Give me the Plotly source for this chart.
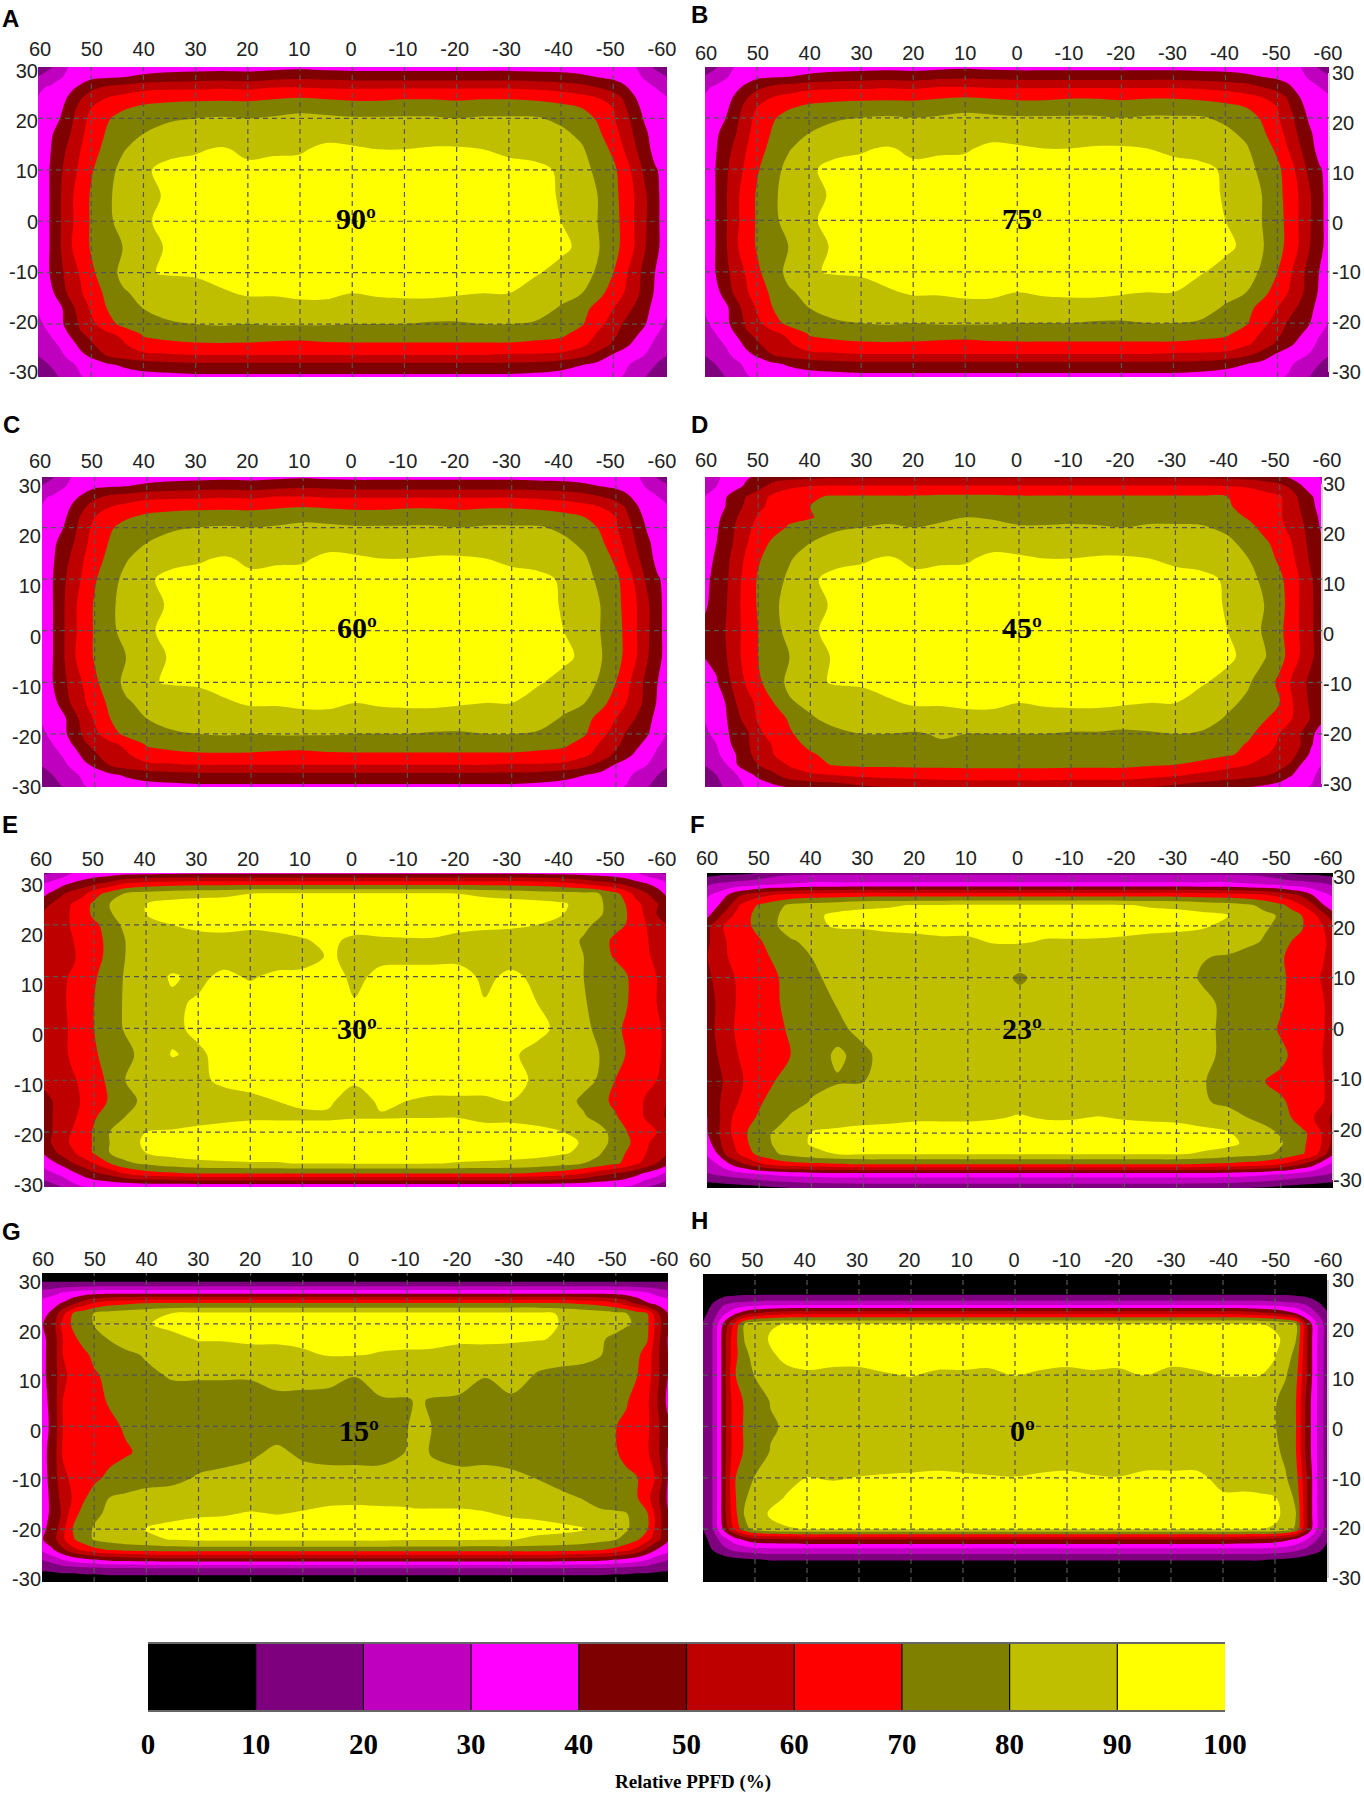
import plotly.graph_objects as go

# Grid of the readings (degrees)
xs = [60.5,58,56,54,52,50,47,44,40,35,30,25,20,15,10,5,0,-5,-10,-15,-20,-25,-30,-35,-40,-44,-47,-50,-52,-54,-56,-58,-60.5]
xs_15 = xs[:19] + [-12] + xs[19:]
ys = [30.7,28,26,24,22,20,17,14,10,5,0,-5,-10,-14,-17,-20,-22,-24,-26,-28,-30.7]

# Relative PPFD. 90, 75 and 60 degrees look identical in the source.
z_90 = [
[12,16,23,30,32,33,33,33,33,33,33,33,33,33,34,33,33,33,33,33,33,33,33,33,33,33,33,33,32,30,23,16,12],
[20,25,29,33,36,38,39,40,42,44,45,46,45,47,48,47,46,46,46,46,46,46,46,45,44,42,40,38,36,33,29,25,20],
[28,31,34,38,42,47,52,54,57,58,58,59,58,60,60,59,59,59,59,59,59,59,59,58,56,54,50,46,42,37,33,30,28],
[30,33,36,42,49,56,60,63,66,67,68,68,68,69,70,69,68,68,69,69,68,69,69,68,66,63,60,55,49,41,35,32,30],
[32,34,38,45,54,60,65,69,72,74,74,75,74,76,77,76,75,75,76,76,75,76,76,75,73,70,65,60,52,44,37,34,32],
[33,36,40,47,57,62,69,73,77,79,80,81,80,81,83,82,81,81,81,81,80,81,81,81,78,74,69,61,55,46,39,35,33],
[34,38,44,50,58,64,71,77,80,83,84,84,84,85,85,87,87,85,85,85,85,85,85,85,82,78,72,64,57,49,42,36,34],
[35,39,46,53,60,66,73,79,85,88,89,91,88,89,89,92,91,90,90,91,91,90,88,87,84,81,75,68,60,52,44,37,35],
[36,40,48,56,62,69,76,83,89,92,93,94,92,92,93,94,93,94,94,94,94,94,93,92,89,83,78,72,66,57,48,41,36],
[37,40,49,58,65,71,78,84,88,91,94]+[95]*12+[94,89,84,80,73,67,60,52,42,36],
[38,40,49,58,65,71,78,83,89,92,94]+[95]*12+[94,90,84,80,73,68,60,52,42,36],
[37,40,49,59,65,71,76,80,87,91,94]+[95]*12+[94,92,88,81,73,68,60,51,42,36],
[35,40,47,56,61,68,76,82,89,91,91,93,94,94,94,94,94,94,94,94,94,94,94,91,87,83,79,70,63,55,47,40,34],
[33,37,44,53,59,65,72,79,82,84,87,89,91,91,92,92,90,91,92,92,91,90,90,86,83,80,73,66,60,54,46,39,33],
[30,34,38,46,55,61,70,75,80,83,84,85,86,86,87,87,86,87,86,86,85,85,85,84,79,73,67,60,55,49,43,37,31],
[28,32,38,44,52,58,65,73,77,79,80,81,80,81,81,81,80,80,80,79,79,80,80,79,76,71,63,56,49,45,41,34,28],
[26,30,35,41,49,52,58,62,71,73,74,75,74,74,73,73,74,74,74,74,74,74,74,73,72,66,59,52,47,42,37,31,26],
[23,27,31,36,43,49,54,58.5,66,68,69,69,69,68,68,69,69,69,69,69,69,69,69,68,66,62,56,48,43,38,34,28,23],
[20,24,28,33,38,42,51,55,58,59,60,60,60,60,60,60,60,60,60,60,60,60,59,59,58,53,47,39,36,33,30,25,20],
[16,20,24,28,32,35,38,41,44,46]+[47]*13+[46,43,40,37,34,32,28,24,20,16],
[12,15,20,25,29,31,33,34,35,35]+[36]*13+[35,35,34,33,31,29,25,20,15,12],
]
z_75 = z_90
z_60 = z_90
z_45 = [
[18,28,32,36,38,39,39,40,41,42]+[42]*13+[42,41,40,38,36,34,33,32,28,20],
[26,30,34,38,42,46,55,58,60,61]+[61]*13+[61,60,59,57,53,48,41,36,31,28],
[30,34,40,45,51,56,62,66,69,71,71,71,71,72,72,72,71,71,71,71,71,71,71,71,70,66,63,61,56,47,41,36,32],
[31,35,41,47,53,58,63,66,70,74,74,75,74,75,76,75,74,74,75,74,74,75,74,74,71,67,64,61,57,49,42,37,33],
[33,38,43,50,56,61,65,68,69,76,77,78,77,78,80,79,77,77,78,77,76,78,78,77,74,69,64,61,57,51,44,38,34],
[34,39,44,52,58,63,67,71,75,79,80,81,80,82,84,83,81,81,81,81,80,81,81,81,78,73,67,62,58,53,45,39,35],
[35,40,46,53,60,66,72,76,80,83,84,84,84,85,85,87,87,85,85,85,85,85,85,85,82,77,72,66,61,54,47,41,36],
[37,41,48,55,63,69,74,79,85,88,89,91,88,89,89,92,91,90,90,91,91,90,88,87,84,80,75,68,63,56,48,42,37],
[38,42,49,57,65,71,76,82,89,92,93,94,92,92,93,94,93,94,94,94,94,94,93,92,89,83,78,72,66,59,51,43,38],
[39,42,50,58,65,71,78,84,88,91,94]+[95]*12+[94,89,84,80,73,67,59,52,43,39],
[41,44,51,58,64,70,77,83,89,92,94]+[95]*12+[94,90,84,79,72,66,59,52,43,41],
[40,43,50,58,64,70,76,80,87,91,94]+[95]*12+[94,92,87,81,73,67,59,52,44,41],
[37,39,47,55,62,68,76,82,88,91,91,93,94,94,94,94,94,94,94,94,94,94,94,91,87,81,75,68,60,54,47,40,38],
[32,35,41,51,57,62,70,79,82,84,87,89,91,91,92,92,90,91,92,92,91,90,90,86,82,78,74,70,62,55,48,41,36],
[30,33,40,47,56,61,66,71,79,83,84,85,86,86,87,87,86,87,86,86,85,85,85,84,79,75,71,66,61,56,49,42,36],
[28,32,39,44,49,58,64,69,74,78,80,80,79,81,80,80,80,80,79,79,78,79,80,79,76,72,66,60,56,50,42,36,32],
[26,30,38,43,49,55,61,67,72,75,76,77,77,79,77,77,77,77,76,76,76,76,76,76,74,69,63,59,54,50,41,35,31],
[24,28,34,41,47,55,60,64,69,73]+[75]*13+[74,71,68,61,57,54,47,38,33,30],
[20,25,30,40,46,50,55,61,67,71]+[72]*11+[71,70,67,63,60,56,53,49,40,35,30,25],
[15,20,25,30,37,42,48,55,58,60,62,63,64,65,66,66,66,66,65,65,65,63,61,58,55,53,51,47,41,36,32,27,22],
[12,16,22,27,31,33,36,38,40,42,46,48,50,50,50,50,50,50,50,50,50,48,45,42,40,38,36,33,31,30,29,26,20],
]
z_30 = [
[12,16,20,26,28,28,28,28,28,28]+[28]*13+[28,28,28,28,28,28,26,20,16,12],
[28,33,37,41,44,48,53,60,63,65]+[66]*13+[65,62,58,54,50,47,43,40,37,30],
[36,42,49,54,58,66,74,81,84,86,87,88,90,91,91,91,91,91,91,91,90,88,86,85,84,83,80,73,66,57,51,44,37],
[42,51,56,61,66,72,80,85,90,93]+[94]*13+[93,91,87,82,74,70,63,57,51,43],
[50,54,58,61,66,72,79,84,90,92]+[93]*13+[92,90,86,81,76,71,65,58,50,46],
[52,55,58,61,65,68,74,83,87,90,92,92,91,91,92,92,92,91,91,91,91,91,91,90,88,82,78,73,70,65,60,54,49],
[52,54,57,60,63,66,73,80,84,85,87,88,88,89,89.6,91,89,89.7,89.8,89.8,89,88,87,85,84,79,74,68,66,64,61,56,53],
[52,54,57,59,63,66,73,80,84,85,86,86,85,85,85,91,88,88,87,87,87,87,86,85,84,80,74,69,67,65,62,57,53],
[53,56,59,61,64,69,74,81,85,91,88,92,89,92,93,94,88,92,94,94,94,88,92,88,85,80,77,74,71,67,64,60,57],
[53,55,59,62,66,70,76,81,85,88.5,91,94,95,95,95,95,90.5,94,95,95,95,90.5,93,90,86,81,76,73,71,67,64,60,57],
[52,54,58,62,65,70,75,81,85,88,92,95,95,95,95,95,95,95,95,95,95,95,94,92,88,83,77,72,69,66,64,61,58],
[52,54,58,62,65,69,73,77,84,90.5,88.5,93,95,95,95,95,95,95,95,95,95,94,91,88,86,83,80,74,70,66,63,61,58],
[51,53,56,59,62,66,72,80,84,86,89,91,93,93,93,93,91,93,93,93,93,93,92,89,86,83,79,70,67,64,62,60,55],
[47,50,55,58,61,65,71,76,83,84,85,88,88,90,91,91,87,91,90,89,89,89,90,86,84,78,73,68,66,63,59,55,49],
[47,50,55,58,64,69,74,80,84,85,87,88,89,89,89,89,89.5,89.5,89.7,89.7,89.7,88,88,87,85,81,76,71,67,63,59,53,48],
[44,50,56,61,66,71,80,85,90,91,92,93,93,93,93,93,93,93,93,93,93,93,93,92,90,87,84,76,71,65,63,60,54],
[42,51,57,62,66,71,80,85,92,93]+[94]*13+[94,93,89,85,76,73,67,62,56,51],
[38,47,54,59,65,71,80,85,90,93]+[94]*13+[93,91,88,81,74,70,64,60,55,49],
[32,38,43,50,55,60,70,78,82,86,88,89,89.5,89.5,90.5,90.5,91,91,91,90.5,89.5,89,88,87,84,80,77,72,68,62,57,50,43],
[24,29,33,38,43,48,53,60,66,68]+[70]*13+[68,65,60,54,50,47,43,38,34,26],
[12,16,20,26,29,30,30,30,30,30]+[30]*13+[30,30,30,30,30,29,26,20,16,12],
]
z_23 = [
[3,3,4,4,5,7,12,14,14,14]+[14]*13+[14,14,14,12,7,5,4,4,3,3],
[18,22,23,25,26,28,30,31,33,33]+[33]*13+[33,33,31,30,28,26,25,23,22,18],
[27,33,40,48,52,56,60,62,64,65]+[66]*13+[65,64,62,60,56,52,48,40,33,27],
[32,39,47,59,66,71,76,82,84,86,88,89,90.5,90.5,91,91,91,91,91,91,90.5,89,88,86,84,81,77,72,67,60,52,41,33],
[36,46,57,63,69,73,79,83,88,92]+[93]*13+[92,90,85,82,79,74,70,64,54,42],
[44,56,63,66,69,73,79,84,88,91,91,92,92,92,92,92,92,92,92,92,92,92,92,91,88,84,81,78,74,71,65,60,50],
[47,54,61,63,66,69,74,79,82,85,86,87,88,89,89,90.5,90.5,89.6,89.6,89.5,89,88,87,86,85,82,79,76,70,68,65,62,55],
[48,56,60,63,66,68,71,75,80,83,85,86,87,87,86,87,87,87,87,87,87,86,85,80.5,79,76,74,71,68,66,64,61,54],
[46,53,58,61,63,65,69,73,78,83,85,85,85,85,85,85,78,85,85,85,85,85,84,79,76,74,72,71,69,66,63,59,52],
[45,51,57,61,63,65,69,72,76,80.5,84]+[85]*11+[83,82,78,76,74,71,68,66,64,61,54],
[43,52,57,62,64,66,68,71,75,78,82.5]+[85]*12+[82,78,76,73,69,67,65,63,61,54],
[43,50,56,60,63,65,67,70,77,81,78,84]+[85]*11+[82,78,76,74,72,69,66,63,60,55],
[40,47,53,58,62,65,70,74,78,79.5,79.8,84]+[85]*10+[84,80.5,77,74,70,68,67,66,64,61,54],
[40,48,56,60,65,69,73,77,80.5,83,85,86,87,87,87,88,88,87,87,87,87,87,85,81,78,76,74,71,69,66,64,61,52],
[38,47,58,63,68,71,76,81,84,86,87,88,89,89,89,89.5,90.5,89.5,89.5,90.3,89.5,89,88.5,87,84,79.5,77,73,70,66,61,55,46],
[37,48,58,64,71,77,81,85,90.5,92]+[93]*13+[92,90.5,87,83,79,76,72,68,59,45],
[33,46,57,62,70,76,81,85,91,93]+[93]*13+[93,92,88,85,81,76,72,67,59,44],
[30,40,54,60,67,73,79,83,87,90.5]+[91]*13+[89,86,84,82,78,75,71,66,55,38],
[26,30,38,46,52,58,63,66,68,69]+[70.5]*13+[69,68,66,64,60,56,50,44,34,26],
[18,21,23,25,27,29,31,33,34,35]+[35]*13+[35,34,33,31,29,27,25,23,21,18],
[3,3,4,4,5,6,8,9,11,11]+[12]*13+[11,11,9,8,6,5,4,4,3,3],
]
z_15 = [
[3]*34,
[10.5]*34,
[24,27,31,34,36,37,38,38,38,38]+[38]*14+[38,38,38,38,37,36,34,31,27,24],
[34,37,41,48,55,61,66,68,70.5,71]+[71]*14+[71,70.5,68,66,61,55,48,41,37,34],
[36,42,57,71,76,80.5,84,86,87,90.5]+[92]*14+[92,89,87,85,83,80.5,75,70.5,52,37],
[38,45,63,72,76,80.5,83,86,89.5,92]+[93]*14+[92,89.5,87,85,83,81,79,72,55,38],
[37,43,60,68,73,76,80.5,84,87,88,90.5,90.5,91,91,91.5,92,92,92,92,92,91.5,91,91,91,90.5,89,86,81,78,76,75,71,53,36],
[37,43,60,65,68,72,75,78,81,84,86,87,88,88,89,90.5,90.5,89.5,89,89,89,88,88,87,85,84,83,80.5,77,75,72,66,52,37],
[37,43,58,63,66,69,72,75,78,81,81,81,81,83,84,83,80.5,85,87,87,87,86,80.5,85,79,77,76,75,74,73,70.5,65,52,37],
[35,43,60,63,65,67,71,73,75,76,76,76,76,78,77,77,74,79,79,81,79,78,76,78,74,73,72,72,71.5,71,66,62,50,34],
[35,42,60,62,64,66,68,71,73,74,75,75,75,75,75,75,75,77,79.5,84,79.5,77,75,75,74,73,73,72,70.2,68,65,62,52,39],
[36,43,61,63,64,65,67,69,72,74,75,77,78,82,78,75,75,75,80.5,84,78.5,75,76,74,73,73,73,73,71,66,63,61.5,52,36],
[35,43,58,62,65,68,72,74,76,77,81,82,84,84,84,85,85,85,85,86,85,84,84,83,79.5,76,75,74,73,73,70.5,65,58,35],
[35,42,54,61,69,74,80.5,82,84,85,86,86,87,87,88,88,88.5,88,88,88,88,88,87,86,85,82,79.5,78,76,75,71,63,52,35],
[35,42,52,67,73,78,82,85,87,88,89,89.5,90.5,89.8,90.5,92,92,92,91.5,91,91,91,90.5,89,88,86,83,81,81,80.5,76,71,55,37],
[37,43,57,71,76,81,84,87,90.5,92]+[93]*14+[93,92,90.5,87,84,81,77,71,55,38],
[38,45,58,69,75,81,84,86,88,90.5,92,92,92,92,92,92,92,92,91,91,91,91,90.5,90.5,88,87,85,83,80.5,77,72,63,53,39],
[31,39,48,57,63,67,71,73,74,75]+[75]*14+[75,74,73,71,67,63,57,48,39,34],
[19,24,30,34,37,39,42,43,44,45]+[45]*14+[45,44,43,42,39,37,34,30,24,19],
[10.5,11,12,12,13,13,14,14,14,14]+[14]*14+[14,14,14,14,13,13,12,12,11,10.5],
[3]*34,
]
z_0 = [
[2]*33,
[3]*33,
[2,3,5,6,7,7,7,7,7,7]+[7]*13+[7,7,7,7,7,7,6,5,3,2],
[3,10.5,18,21,22,23,24,24,24,24]+[24]*13+[24,24,24,24,23,22,21,18,12,4],
[5,15,28,38,46,50.5,55,57,58,58]+[58]*13+[58,58,57,54,50.5,46,40.5,30.5,20.5,9],
[8,20.5,42,60.5,80.5,87,89,90.3,90.3,90.3]+[90.3]*13+[90.3,90.3,90.3,90.3,89,87,80.5,50.5,30.5,10.5],
[8,21,46,66,80.5,85,91,94,94,94]+[94]*13+[94,94,94,93,91,89,80.5,52,31,10.5],
[8,21,46,66,78,83,89,92,93,93]+[93]*13+[93,93,93,92,90.5,85,77,52,31,10.5],
[8,21,46,69,76,80.5,83,88,89,88,88,89.5,90.3,89,89,88.5,90.2,89,88,89,88.5,90.2,88,89,90.3,90.3,90.2,88,81,73,52,31,10.5],
[8,21,46,65,71,75,80.5,82,84,85]+[86]*13+[86,85,83,82,81,76,70.5,48,30.5,10.5],
[8,21,46,65,71,75,79,81,83,84]+[85]*13+[85,85,83,81,80.5,76,70.5,48,30.5,10.5],
[8,21,46,65,71,75,80.5,82,84,85]+[86]*13+[86,85,84,83,82,78,70.5,48,30.5,10.5],
[8,21,46,69,76,80.5,85,88,90.2,89.5,90.2,90.7,91,91.5,91,90.5,90.2,91,91.5,90.5,90.2,91.5,91.5,91.5,88,88,87,86,81,74,52,31,10.5],
[8,21,46,68,79,84,88,90.5,92,93]+[93]*13+[93,91,91,91,90.5,86,78,52,31,10.5],
[8,21,46,66,81,86,91,94,94,94]+[94]*13+[94,94,94,93,92,88,80.5,52,31,10.5],
[7,20.5,42,60.5,76,84,88,89,90.3,90.3]+[90.3]*13+[90.3,90.3,90.3,90.2,89,86,78,50.5,30.5,10.5],
[5,14,26,35,42,47,48,49,50.5,50.5]+[50.5]*13+[50.5,50.5,49,48,46,43,38,30.5,20.5,9],
[3,11,17,22,24,26,27,27,27,27]+[27]*13+[27,27,27,27,26,25,22,18,13,6],
[2,3,5,7,8,9,10.5,10.5,10.5,10.5]+[10.5]*13+[10.5,10.5,10.5,10.5,9,8,7,5,4,2],
[3]*33,
[2]*33,
]

x_tick_values = [60,50,40,30,20,10,0,-10,-20,-30,-40,-50,-60]
y_tick_values = [30,20,10,0,-10,-20,-30]
x_grid_values = [50,40,30,20,10,0,-10,-20,-30,-40,-50]
y_grid_values = [20,10,0,-10,-20]
bar_levels = [0,10,20,30,40,50,60,70,80,90,100]
bar_centers = [5,15,25,35,45,55,65,75,85,95]
band_colors = ["#000000","#7f007f","#bf00bf","#ff00ff","#7f0000","#bf0000","#ff0000","#7f7f00","#bfbf00","#ffff00"]

W, H = 1364, 1795
# letter, angle, z, xs, plot box px (l,r,t,b), x range, y range, x-label span (l,r,y), y-label span (t,b,x), side, letter xy, angle xy, label standoff
panels = [
 ("A","90º",z_90,xs,(38,667,67,377),(60.2,-60.3),(30,-30.3),(40,662,49),(71,372,38),"left",(10,18),(356,218),0),
 ("B","75º",z_75,xs,(705,1329,67,377),(60,-59.9),(29.9,-30.5),(706,1328,53),(73,372,1329),"right",(699,15),(1022,218),-2),
 ("C","60º",z_60,xs,(42,667,477,787),(60.1,-59.8),(29.8,-30.3),(40,662,461),(486,787,41),"left",(11,425),(357,627),0),
 ("D","45º",z_45,xs,(705,1322,477,787),(60.2,-58.1),(29.8,-30.3),(706,1327,460),(484,784,1322),"right",(699,425),(1022,627),-4),
 ("E","30º",z_30,xs,(44,666,873,1187),(59.6,-59.8),(30,-30.6),(41,662,859),(885,1185,43),"left",(10,825),(357,1028),0),
 ("F","23º",z_23,xs,(707,1333,873,1188),(60,-60),(30.2,-30.6),(707,1328,858),(877,1180,1333),"right",(697,825),(1022,1028),-5),
 ("G","15º",z_15,xs_15,(42,668,1273,1582),(60,-60),(29.9,-30.3),(43,664,1259),(1282,1579,41),"left",(11,1231),(359,1430),0),
 ("H","0º",z_0,xs,(703,1327,1274,1582),(60,-60),(29.7,-30.3),(700,1328,1260),(1280,1578,1328),"right",(699,1220),(1022,1430),-1),
]

scale = []
for i, c in enumerate(band_colors):
    scale += [[i / 10, c], [(i + 1) / 10, c]]

SANS = "Liberation Sans"
SERIF = "Liberation Serif"
fig = go.Figure()
layout = {}
shapes = []
annotations = []

for n, (letter, angle, z, gx, box, xr, yr, xl, yl, side, lxy, axy, standoff) in enumerate(panels, 1):
    assert len(z) == len(ys) and all(len(r) == len(gx) for r in z), letter
    l, r, t, b = box
    fig.add_trace(go.Contour(
        x=gx[::-1], y=ys[::-1], z=[row[::-1] for row in z[::-1]],
        xaxis=f"x{n}", yaxis=f"y{n}", zmin=0, zmax=100, autocontour=False,
        contours=dict(start=0, end=100, size=10, coloring="fill", showlines=False),
        line=dict(width=0), colorscale=scale, showscale=False, hoverinfo="skip"))
    layout[f"xaxis{n}"] = dict(domain=[l / W, r / W], range=list(xr), anchor=f"y{n}", visible=False)
    layout[f"yaxis{n}"] = dict(domain=[1 - b / H, 1 - t / H], range=[yr[1], yr[0]], anchor=f"x{n}", visible=False)
    # label axes: the printed numbers do not sit exactly on the dashed grid of the source
    m = n + 8
    fig.add_trace(go.Scatter(x=[0], y=[0], xaxis=f"x{m}", yaxis=f"y{m}", mode="markers",
                             marker=dict(opacity=0), hoverinfo="skip", showlegend=False))
    layout[f"xaxis{m}"] = dict(domain=[xl[0] / W, xl[1] / W], range=[60, -60], side="top", anchor="free",
                               position=1 - (xl[2] + 11) / H, tickmode="array", tickvals=x_tick_values,
                               ticktext=[str(v) for v in x_tick_values], showgrid=False, zeroline=False,
                               ticks="", showline=False, tickfont=dict(family=SANS, size=20, color="#222"))
    layout[f"yaxis{m}"] = dict(domain=[1 - yl[1] / H, 1 - yl[0] / H], range=[-30, 30], side=side, anchor="free",
                               position=yl[2] / W, tickmode="array", tickvals=y_tick_values,
                               ticktext=[str(v) for v in y_tick_values], showgrid=False, zeroline=False,
                               ticks="", showline=side == "right", linecolor="#cfcfcf", linewidth=2,
                               ticklabelstandoff=standoff,
                               tickfont=dict(family=SANS, size=20, color="#222"))
    for v in x_grid_values:
        shapes.append(dict(type="line", xref=f"x{n}", yref=f"y{n}", x0=v, x1=v, y0=yr[1], y1=yr[0], layer="above",
                           line=dict(color="#555555", width=1.2, dash="5px,4px")))
    for v in y_grid_values:
        shapes.append(dict(type="line", xref=f"x{n}", yref=f"y{n}", x0=xr[0], x1=xr[1], y0=v, y1=v, layer="above",
                           line=dict(color="#555555", width=1.2, dash="5px,4px")))
    annotations.append(dict(text=f"<b>{letter}</b>", xref="paper", yref="paper", x=lxy[0] / W, y=1 - lxy[1] / H,
                            showarrow=False, xanchor="center", yanchor="middle",
                            font=dict(family=SANS, size=24, color="black")))
    annotations.append(dict(text=f"<b>{angle}</b>", xref="paper", yref="paper", x=axy[0] / W, y=1 - axy[1] / H,
                            showarrow=False, xanchor="center", yanchor="middle",
                            font=dict(family=SERIF, size=30, color="black")))

# scale bar
fig.add_trace(go.Heatmap(x=bar_centers, y=[0], z=[bar_centers], xaxis="x17", yaxis="y17", zmin=0, zmax=100,
                         colorscale=scale, showscale=False, hoverinfo="skip"))
layout["xaxis17"] = dict(domain=[148 / W, 1225 / W], range=[0, 100], anchor="y17", side="bottom", tickmode="array",
                         tickvals=bar_levels, ticktext=[str(v) for v in bar_levels], ticks="", showgrid=False,
                         zeroline=False, showline=True, mirror=True, linecolor="#666666", linewidth=2,
                         ticklabelstandoff=7,
                         tickfont=dict(family=SERIF, size=29, color="black", weight="bold"))
layout["yaxis17"] = dict(domain=[1 - 1710 / H, 1 - 1644 / H], range=[-0.5, 0.5], anchor="x17", visible=False)
for v in bar_levels[1:-1]:
    shapes.append(dict(type="line", xref="x17", yref="y17", x0=v, x1=v, y0=-0.5, y1=0.5, layer="above",
                       line=dict(color="black", width=1.2)))
annotations.append(dict(text="<b>Relative PPFD (%)</b>", xref="paper", yref="paper", x=693 / W, y=1 - 1782 / H,
                        showarrow=False, xanchor="center", yanchor="middle",
                        font=dict(family=SERIF, size=19, color="black")))

fig.update_layout(width=W, height=H, autosize=False, margin=dict(l=0, r=0, t=0, b=0, autoexpand=False), showlegend=False,
                  paper_bgcolor="white", plot_bgcolor="rgba(0,0,0,0)", shapes=shapes, annotations=annotations, **layout)
fig.write_html("out.html", config={"displayModeBar": False}, post_script="document.body.style.margin='0';")
